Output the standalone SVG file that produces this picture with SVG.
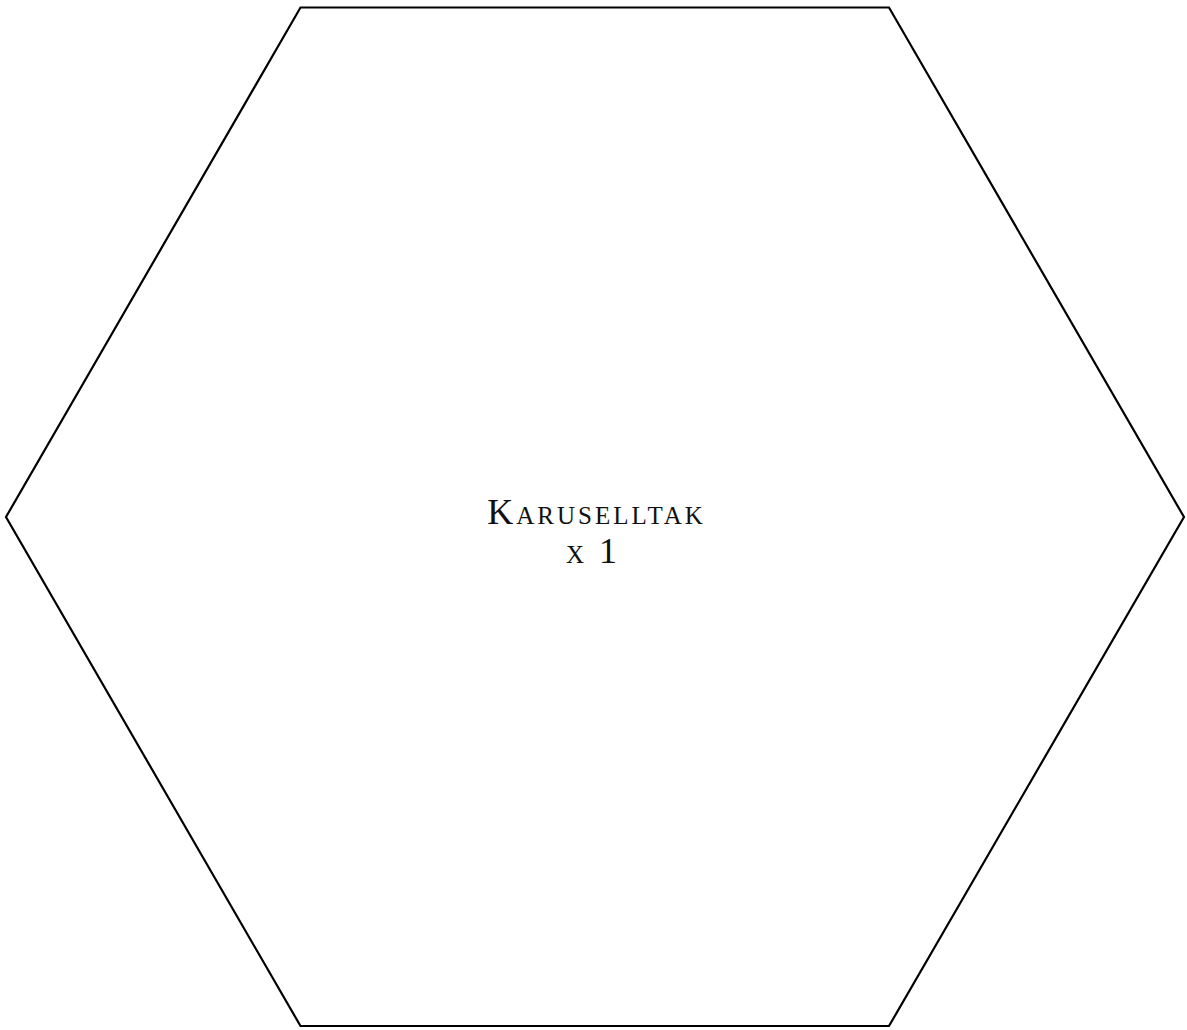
<svg xmlns="http://www.w3.org/2000/svg" width="1187" height="1030" viewBox="0 0 1187 1030">
<style>
.shape{fill:#fff;stroke:#000;stroke-width:2.2;stroke-linejoin:miter}
.lbl{font-family:"Liberation Serif","Times New Roman",serif;font-size:36px;font-variant:small-caps;text-anchor:middle;fill:#111;letter-spacing:3px}
</style>
<rect width="1187" height="1030" fill="#fff"/>
<g id="karuselltak">
<polygon class="shape" points="300.5,7.5 889,7.5 1184,517 889,1026 300.5,1026 6,517"/>
<text class="lbl" x="596.5" y="524">Karuselltak</text>
<text class="lbl" x="593" y="563">x 1</text>
</g>
<g id="connectors"></g>
</svg>
